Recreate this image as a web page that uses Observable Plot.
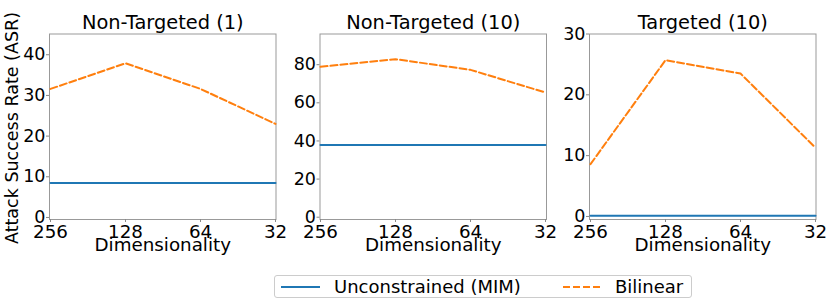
<!DOCTYPE html>
<html>
<head>
<meta charset="utf-8">
<script src="https://cdn.jsdelivr.net/npm/d3@7"></script>
<script src="https://cdn.jsdelivr.net/npm/@observablehq/plot@0.6"></script>
<style>
  html, body { margin: 0; padding: 0; background: #fff; }
  #chart { position: relative; width: 830px; height: 302px; font-family: 'DejaVu Sans', sans-serif; }
  #chart svg { position: absolute; top: 0; overflow: visible; font-family: 'DejaVu Sans', sans-serif; }
  #chart svg text { font-family: 'DejaVu Sans', sans-serif; }
  #ylabel { position: absolute; left: 12px; top: 128px; transform: translate(-50%, -50%) rotate(-90deg); font-size: 17.5px; white-space: nowrap; }
  #legend { position: absolute; left: 274px; top: 275px; width: 418px; height: 23px; border: 1px solid #ccc; border-radius: 3px; box-sizing: border-box; font-size: 18px; }
  #legend .item { position: absolute; top: 0; height: 22px; line-height: 22px; }
  #legend svg { position: absolute; top: 0; }
</style>
</head>
<body>
<div id="chart"></div>
<script>
const dims = ["256", "128", "64", "32"];
const titles = ["Non-Targeted (1)", "Non-Targeted (10)", "Targeted (10)"];
const unconstrained1 = [8.5, 8.5, 8.5, 8.5];
const bilinear1 = [31.6, 37.9, 31.6, 23.0];
const unconstrained2 = [37.9, 37.9, 37.9, 37.9];
const bilinear2 = [78.9, 82.9, 77.3, 65.4];
const unconstrained3 = [0.1, 0.1, 0.1, 0.1];
const bilinear3 = [8.6, 25.7, 23.5, 11.3];
const yTicks1 = [0, 10, 20, 30, 40];
const yTicks2 = [0, 20, 40, 60, 80];
const yTicks3 = [0, 10, 20, 30];
const seriesNames = ["Unconstrained (MIM)", "Bilinear"];

const blue = "#1f77b4", orange = "#ff7f0e";
const chart = document.getElementById("chart");

const panels = [
  {title: titles[0], u: unconstrained1, b: bilinear1, ticks: yTicks1, domain: [-0.5, 45.1], left: 0, frameL: 49, frameR: 275.5},
  {title: titles[1], u: unconstrained2, b: bilinear2, ticks: yTicks2, domain: [-1.2, 96.1], left: 280, frameL: 319.5, frameR: 546},
  {title: titles[2], u: unconstrained3, b: bilinear3, ticks: yTicks3, domain: [-0.5, 30], left: 550, frameL: 589, frameR: 815.5}
];

for (const p of panels) {
  const data = dims.map((d, i) => ({dim: d, u: p.u[i], b: p.b[i]}));
  const W = 280;
  const mL = p.frameL - p.left;
  const mR = W - (p.frameR - p.left);
  const svg = Plot.plot({
    width: W,
    height: 262,
    marginLeft: mL,
    marginRight: mR,
    marginTop: 33.5,
    marginBottom: 43,
    style: {fontFamily: "'DejaVu Sans', sans-serif", background: "transparent", overflow: "visible"},
    x: {type: "point", domain: dims, padding: 0},
    y: {domain: p.domain},
    marks: [
      Plot.frame({stroke: "#999", strokeWidth: 1}),
      Plot.axisY({ticks: p.ticks, tickSize: 3, tickPadding: 1, fontSize: 17.5, label: null, stroke: "#888", fill: "#000"}),
      Plot.axisX({tickSize: 3, tickPadding: 2, fontSize: 18.3, label: null, stroke: "#888", fill: "#000"}),
      Plot.lineY(data, {x: "dim", y: "u", stroke: blue, strokeWidth: 2}),
      Plot.lineY(data, {x: "dim", y: "b", stroke: orange, strokeWidth: 2, strokeDasharray: "7,3"}),
      Plot.text([p.title], {frameAnchor: "top", dy: -19, fontSize: 19.4, fill: "#000"}),
      Plot.text(["Dimensionality"], {frameAnchor: "bottom", dy: 31.5, fontSize: 18.3, fill: "#000"})
    ]
  });
  svg.style.left = p.left + "px";
  chart.appendChild(svg);
}

const yl = document.createElement("div");
yl.id = "ylabel";
yl.textContent = "Attack Success Rate (ASR)";
chart.appendChild(yl);

const legend = document.createElement("div");
legend.id = "legend";
legend.innerHTML = `
  <svg width="40" height="22" style="left:6px"><line x1="0" x2="39" y1="11" y2="11" stroke="${blue}" stroke-width="2"/></svg>
  <div class="item" style="left:59px">${seriesNames[0]}</div>
  <svg width="40" height="22" style="left:288px"><line x1="0" x2="38" y1="11" y2="11" stroke="${orange}" stroke-width="2" stroke-dasharray="7,3"/></svg>
  <div class="item" style="left:340px">${seriesNames[1]}</div>`;
chart.appendChild(legend);
</script>
</body>
</html>
